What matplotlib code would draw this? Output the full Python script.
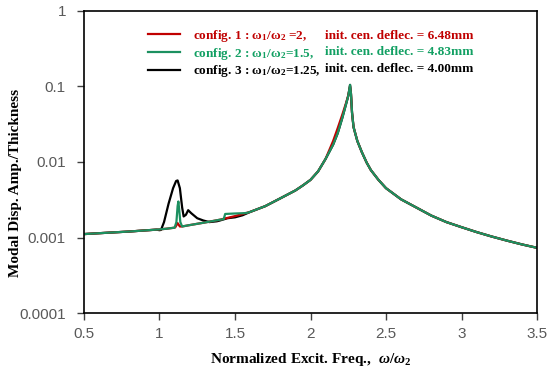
import matplotlib
matplotlib.use("Agg")
import matplotlib.pyplot as plt
from matplotlib.ticker import FixedLocator, FixedFormatter, NullLocator

plt.rcParams['mathtext.fontset'] = 'custom'
plt.rcParams['mathtext.rm'] = 'Liberation Serif:bold'
plt.rcParams['mathtext.it'] = 'Liberation Serif:italic:bold'
plt.rcParams['mathtext.bf'] = 'Liberation Serif:bold'

# ---- data ----
x1 = [0.5, 0.6, 0.7, 0.8, 0.9, 1.0, 1.05, 1.1, 1.105, 1.12, 1.135, 1.15, 1.2, 1.3, 1.4, 1.5,
      1.6, 1.7, 1.8, 1.9, 1.95, 2.0, 2.05, 2.1, 2.15, 2.18, 2.21, 2.235, 2.25, 2.262, 2.268,
      2.275, 2.285, 2.31, 2.34, 2.372, 2.4, 2.45, 2.5, 2.6, 2.7, 2.8, 2.9, 3.0, 3.1, 3.2,
      3.3, 3.4, 3.5]
y1 = [0.00111, 0.00114, 0.00117, 0.0012, 0.00124, 0.00128, 0.00131, 0.00135, 0.00137, 0.00155,
      0.0014, 0.0014, 0.00146, 0.00158, 0.00172, 0.00192, 0.00218, 0.0026, 0.0033, 0.0042,
      0.0049, 0.0058, 0.0075, 0.011, 0.019, 0.028, 0.042, 0.06, 0.076, 0.1, 0.08, 0.045, 0.029,
      0.019, 0.0135, 0.0098, 0.0078, 0.0058, 0.0045, 0.0032, 0.0025, 0.00195, 0.0016, 0.00137,
      0.00118, 0.00103, 0.00091, 0.00081, 0.00073]

x2 = [0.5, 0.6, 0.7, 0.8, 0.9, 1.0, 1.05, 1.1, 1.112, 1.12, 1.125, 1.13, 1.138, 1.15, 1.2, 1.3,
      1.4, 1.425, 1.435, 1.5, 1.56, 1.58, 1.6, 1.7, 1.8, 1.9, 1.95, 2.0, 2.05, 2.1, 2.15, 2.18,
      2.21, 2.235, 2.25, 2.262, 2.268, 2.275, 2.285, 2.31, 2.34, 2.372, 2.4, 2.45, 2.5, 2.6,
      2.7, 2.8, 2.9, 3.0, 3.1, 3.2, 3.3, 3.4, 3.5]
y2 = [0.00111, 0.00114, 0.00117, 0.0012, 0.00124, 0.00128, 0.00131, 0.00135, 0.0016, 0.0026,
      0.003, 0.0024, 0.0016, 0.0014, 0.00146, 0.00158, 0.00172, 0.00175, 0.00205, 0.00208,
      0.0021, 0.00212, 0.00218, 0.0026, 0.0033, 0.0042, 0.0049, 0.0058, 0.0075, 0.011, 0.017,
      0.024, 0.038, 0.058, 0.075, 0.105, 0.08, 0.045, 0.029, 0.019, 0.0135, 0.0098, 0.0078,
      0.0058, 0.0045, 0.0032, 0.0025, 0.00195, 0.0016, 0.00137, 0.00118, 0.00103, 0.00091,
      0.00081, 0.00073]

x3 = [0.5, 0.6, 0.7, 0.8, 0.9, 0.98, 1.0, 1.01, 1.03, 1.06, 1.09, 1.11, 1.12, 1.135, 1.15,
      1.16, 1.175, 1.19, 1.21, 1.25, 1.29, 1.33, 1.38, 1.4, 1.45, 1.5, 1.55, 1.6, 1.7, 1.8,
      1.9, 1.95, 2.0, 2.05, 2.1, 2.15, 2.18, 2.21, 2.235, 2.25, 2.262, 2.268, 2.275, 2.285,
      2.31, 2.34, 2.372, 2.4, 2.45, 2.5, 2.6, 2.7, 2.8, 2.9, 3.0, 3.1, 3.2, 3.3, 3.4, 3.5]
y3 = [0.00111, 0.00114, 0.00117, 0.0012, 0.00124, 0.00127, 0.00125, 0.00126, 0.0016, 0.0028,
      0.0045, 0.0056, 0.0057, 0.0045, 0.0025, 0.0019, 0.002, 0.0023, 0.0021, 0.0018, 0.00168,
      0.0016, 0.00164, 0.00168, 0.0018, 0.00185, 0.00197, 0.00218, 0.0026, 0.0033, 0.0042,
      0.0049, 0.0058, 0.0075, 0.011, 0.017, 0.024, 0.038, 0.058, 0.075, 0.105, 0.08, 0.045,
      0.029, 0.019, 0.0135, 0.0098, 0.0078, 0.0058, 0.0045, 0.0032, 0.0025, 0.00195, 0.0016,
      0.00137, 0.00118, 0.00103, 0.00091, 0.00081, 0.00073]

labels_left = [r'config. 1 : ω$_1$/ω$_2$ =2,',
               r'config. 2 : ω$_1$/ω$_2$=1.5,',
               r'config. 3 : ω$_1$/ω$_2$=1.25,']
labels_right = ['init. cen. deflec. = 6.48mm',
                'init. cen. deflec. = 4.83mm',
                'init. cen. deflec. = 4.00mm']
xticks = [0.5, 1, 1.5, 2, 2.5, 3, 3.5]
xtick_labels = ['0.5', '1', '1.5', '2', '2.5', '3', '3.5']
yticks = [0.0001, 0.001, 0.01, 0.1, 1]
ytick_labels = ['0.0001', '0.001', '0.01', '0.1', '1']

c_red = '#C00000'
c_green = '#1C9060'
c_green_txt = '#12A063'
c_black = '#000000'

fig = plt.figure(figsize=(5.5, 3.71), dpi=100)
ax = fig.add_axes([0.1527, 0.1563, 0.8237, 0.8141])

l3, = ax.plot(x3, y3, color=c_black, lw=1.6)
l1, = ax.plot(x1, y1, color=c_red, lw=1.6)
l2, = ax.plot(x2, y2, color=c_green, lw=1.6)

ax.set_yscale('log')
ax.set_xlim(0.5, 3.5)
ax.set_ylim(0.0001, 1)
ax.xaxis.set_major_locator(FixedLocator(xticks))
ax.xaxis.set_major_formatter(FixedFormatter(xtick_labels))
ax.yaxis.set_major_locator(FixedLocator(yticks))
ax.yaxis.set_major_formatter(FixedFormatter(ytick_labels))
ax.yaxis.set_minor_locator(NullLocator())
ax.xaxis.set_minor_locator(NullLocator())
ax.tick_params(direction='out', length=5, width=1, color='#404040',
               labelsize=11, labelcolor='#595959')
ax.tick_params(axis='y', pad=8)
ax.tick_params(axis='x', pad=5)
for lbl in ax.get_xticklabels() + ax.get_yticklabels():
    lbl.set_family('Liberation Sans')
for s in ax.spines.values():
    s.set_linewidth(1.2)
    s.set_color('black')

ax.set_xlabel(r'Normalized Excit. Freq.,  $\it{ω}$/$\it{ω}_2$', family='Liberation Serif',
              fontweight='bold', fontsize=11, labelpad=7)
ax.set_ylabel('Modal Disp. Amp./Thickness', family='Liberation Serif',
              fontweight='bold', fontsize=11)
ax.yaxis.set_label_coords(-0.137, 0.43)

leg = ax.legend([l1, l2, l3], labels_left, loc='upper left',
                bbox_to_anchor=(0.13, 0.962), frameon=False,
                prop={'family': 'Liberation Serif', 'weight': 'bold', 'size': 9.5},
                handlelength=2.4, handletextpad=1.0, labelspacing=0.14, borderaxespad=0)
for t, c in zip(leg.get_texts(), [c_red, c_green_txt, c_black]):
    t.set_color(c)

right_y = [0.918, 0.863, 0.808]
for txt, yy, c in zip(labels_right, right_y, [c_red, c_green_txt, c_black]):
    ax.text(0.532, yy, txt, transform=ax.transAxes, color=c, family='Liberation Serif',
            fontweight='bold', fontsize=9.5, va='center', ha='left')

fig.savefig('out.png', dpi=100)
